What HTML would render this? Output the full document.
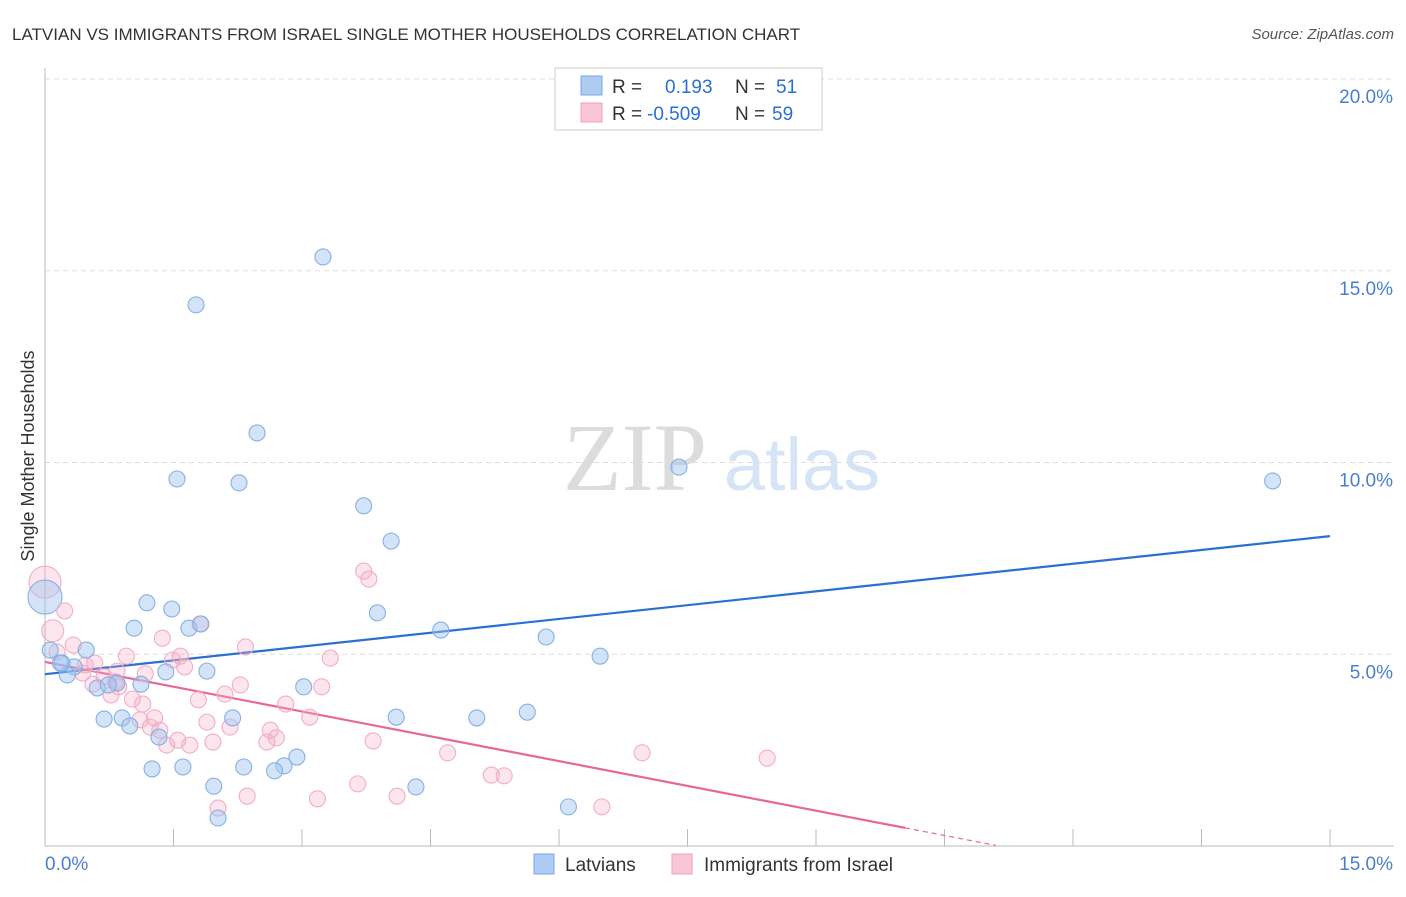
<!DOCTYPE html>
<html><head><meta charset="utf-8"><style>
body{margin:0;background:#fff;font-family:"Liberation Sans",sans-serif;}
</style></head><body>
<svg id="chart" width="1406" height="892" xmlns="http://www.w3.org/2000/svg" font-family="Liberation Sans, sans-serif">
<text x="12" y="40" font-size="17" fill="#333">LATVIAN VS IMMIGRANTS FROM ISRAEL SINGLE MOTHER HOUSEHOLDS CORRELATION CHART</text>
<text x="1394" y="39" font-size="15" fill="#555" text-anchor="end" font-style="italic">Source: ZipAtlas.com</text>
<g>
<text x="635" y="490" font-size="96" fill="#dcdcdc" text-anchor="middle" font-family="Liberation Serif, serif">ZIP</text>
<text x="802" y="490" font-size="74" fill="#d6e4f6" text-anchor="middle">atlas</text>
</g>
<text transform="translate(34,456) rotate(-90)" font-size="18" fill="#333" text-anchor="middle">Single Mother Households</text>
<g id="grid"></g><g id="axes"></g><g id="trends"></g><g id="pts"></g>
<g>
<rect x="555" y="68" width="267" height="62" fill="#fff" stroke="#ccc"/>
<rect x="581" y="76" width="21" height="19" fill="#aecbf2" stroke="#7aa8e0"/>
<rect x="581" y="103" width="21" height="19" fill="#f8c6d6" stroke="#f0a0bb"/>
<text x="612" y="93" font-size="19" fill="#333">R = </text><text x="665" y="93" font-size="19" fill="#2a6fd6">0.193</text>
<text x="735" y="93" font-size="19" fill="#333">N = </text><text x="776" y="93" font-size="19" fill="#2a6fd6">51</text>
<text x="612" y="120" font-size="19" fill="#333">R = </text><text x="647" y="120" font-size="19" fill="#2a6fd6">-0.509</text>
<text x="735" y="120" font-size="19" fill="#333">N = </text><text x="772" y="120" font-size="19" fill="#2a6fd6">59</text>
</g>
<g>
<rect x="534" y="854" width="20" height="20" fill="#aecbf2" stroke="#7aa8e0"/>
<text x="565" y="871" font-size="19" fill="#333">Latvians</text>
<rect x="672" y="854" width="20" height="20" fill="#f8c6d6" stroke="#f0a0bb"/>
<text x="704" y="871" font-size="19" fill="#333">Immigrants from Israel</text>
</g>
</svg>
<script>
const yTicks=[5,10,15,20];
const yTickLabels=["5.0%","10.0%","15.0%","20.0%"];
const xTickValues=[0,1.5,3,4.5,6,7.5,9,10.5,12,13.5,15];
const xEndLabels=["0.0%","15.0%"];
const latX=[3.245,1.763,2.475,1.541,2.265,7.40,14.33,3.72,4.04,1.19,1.48,3.88,1.04,1.68,1.82,4.62,5.85,6.48,0.48,0.06,0.34,0.20,0.26,1.89,1.41,0.61,0.84,1.12,0.74,3.02,0.69,0.90,2.19,4.10,5.04,5.63,0.99,1.33,2.94,2.79,1.25,1.61,2.32,2.68,1.97,4.33,6.11,2.02,0.18];
const latY=[15.36,14.11,10.77,9.57,9.47,9.88,9.52,8.87,7.95,6.34,6.18,6.08,5.68,5.68,5.79,5.63,5.45,4.95,5.11,5.11,4.67,4.77,4.46,4.56,4.54,4.12,4.25,4.22,4.20,4.15,3.31,3.34,3.34,3.36,3.34,3.49,3.13,2.84,2.32,2.09,2.01,2.06,2.06,1.96,1.56,1.54,1.02,0.73,4.77];
const isrX=[0.09,0.23,0.14,0.33,0.58,0.84,0.44,0.69,0.56,0.86,0.77,0.95,1.17,1.37,1.49,1.63,1.58,1.81,1.02,1.14,1.28,1.23,1.42,1.55,1.79,1.89,1.96,2.10,2.16,2.28,2.34,2.81,2.63,2.70,2.59,3.09,3.23,3.33,3.72,3.78,2.02,2.36,3.18,3.65,3.83,4.11,4.70,5.21,5.36,6.50,6.97,8.43,0.47,1.34,1.69,0.82,1.11];
const isrY=[5.61,6.13,5.06,5.24,4.77,4.56,4.51,4.41,4.22,4.15,3.94,4.95,4.49,5.42,4.85,4.67,4.95,5.79,3.83,3.70,3.34,3.10,2.63,2.76,3.81,3.23,2.71,3.96,3.10,4.20,5.19,3.70,3.02,2.82,2.71,3.36,4.15,4.90,7.17,6.96,0.99,1.30,1.23,1.62,2.74,1.30,2.43,1.85,1.83,1.02,2.43,2.29,4.72,3.02,2.63,4.28,3.29];
const bigLat=[0,6.49];
const bigIsr=[0,6.88];
const latTrend=[4.48,0.24];
const isrTrend=[4.8,-0.431];
const isrSolidEnd=10.04, isrDashEnd=11.1;

const NS="http://www.w3.org/2000/svg";
const sx=v=>45+v/15*1285;
const sy=v=>846-v*38.35;
function mk(tag,attrs,parent){const e=document.createElementNS(NS,tag);for(const k in attrs)e.setAttribute(k,attrs[k]);document.getElementById(parent).appendChild(e);return e;}

yTicks.forEach((t,i)=>{
  const l=mk('line',{x1:45,x2:1394,y1:sy(t),y2:sy(t),stroke:'#ddd','stroke-dasharray':'5,4'},'grid');
  
  
  const tx=mk('text',{x:1393,y:sy(t)+24,'font-size':19,fill:'#4a7fd0','text-anchor':'end'},'grid');
  tx.textContent=yTickLabels[i];
  
  
});
const ya=mk('line',{x1:45,x2:45,y1:68,y2:846,stroke:'#bbb'},'axes');


const xa=mk('line',{x1:45,x2:1394,y1:846,y2:846,stroke:'#bbb'},'axes');


xTickValues.forEach(v=>{
  const t=mk('line',{x1:sx(v),x2:sx(v),y1:829,y2:846,stroke:'#bbb'},'axes');
  
  
});
const xl0=mk('text',{x:45,y:870,'font-size':19,fill:'#4a7fd0'},'axes');
xl0.textContent=xEndLabels[0];


const xl1=mk('text',{x:1393,y:870,'font-size':19,fill:'#4a7fd0','text-anchor':'end'},'axes');
xl1.textContent=xEndLabels[1];



function dot(x,y,r,fill,stroke,name){
  const c=mk('circle',{cx:sx(x),cy:sy(y),r:r,fill:fill,stroke:stroke,'stroke-width':1.1},'pts');
  
  
}
dot(bigIsr[0],bigIsr[1],16,'rgba(245,170,195,0.3)','#f2aec4','israel-point');
dot(bigLat[0],bigLat[1],17,'rgba(160,196,240,0.45)','#86b0e4','latvian-point');
isrX.forEach((x,i)=>dot(x,isrY[i],i===0?11:8,'rgba(245,170,195,0.3)','#f2aec4','israel-point'));
latX.forEach((x,i)=>dot(x,latY[i],8,'rgba(160,196,240,0.45)','#86b0e4','latvian-point'));

const lt=mk('line',{x1:sx(0),y1:sy(latTrend[0]),x2:sx(15),y2:sy(latTrend[0]+latTrend[1]*15),stroke:'#2a6fd6','stroke-width':2.2},'trends');


const it=mk('line',{x1:sx(0),y1:sy(isrTrend[0]),x2:sx(isrSolidEnd),y2:sy(isrTrend[0]+isrTrend[1]*isrSolidEnd),stroke:'#e8679a','stroke-width':2.2},'trends');


const id=mk('line',{x1:sx(isrSolidEnd),y1:sy(isrTrend[0]+isrTrend[1]*isrSolidEnd),x2:sx(isrDashEnd),y2:sy(isrTrend[0]+isrTrend[1]*isrDashEnd),stroke:'#e8679a','stroke-width':1.2,'stroke-dasharray':'5,4'},'trends');


</script>
</body></html>
